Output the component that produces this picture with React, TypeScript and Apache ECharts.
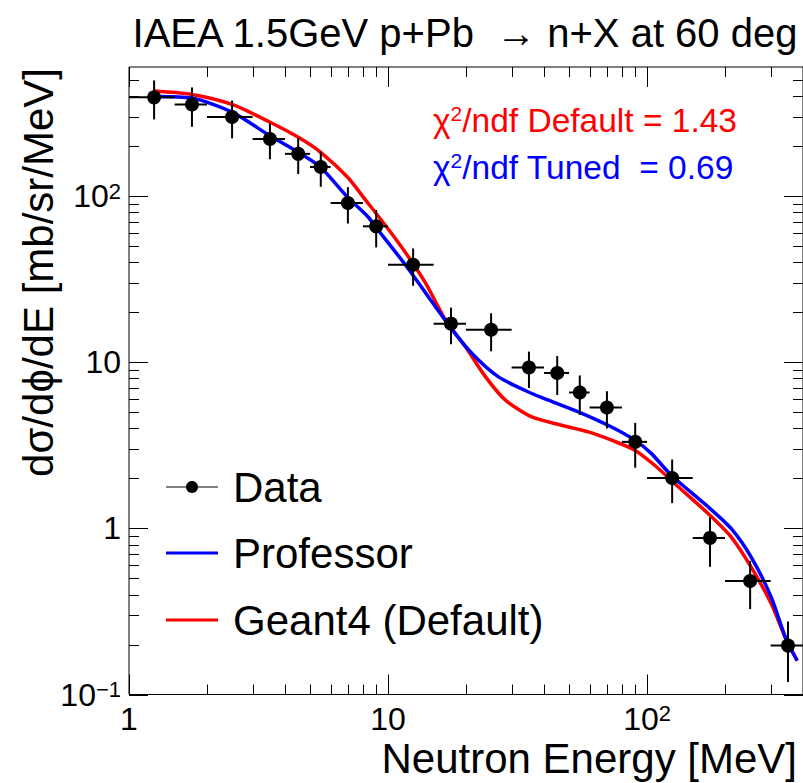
import React, { useEffect, useRef } from "react";
import * as echarts from "echarts";

const FONT = '"Liberation Sans", Arial, Helvetica, sans-serif';

// ---- data ----
const binEdges = [1, 1.5, 2, 3, 4, 5, 6, 8, 10, 15, 20, 30, 40, 50, 60, 80, 100, 150, 200, 300, 400];
const dataE = [1.25, 1.75, 2.5, 3.5, 4.5, 5.5, 7, 9, 12.5, 17.5, 25, 35, 45, 55, 70, 90, 125, 175, 250, 350];
const dataV = [394, 357, 300, 221, 180, 150, 91, 65.9, 38.7, 17.1, 15.7, 9.3, 8.63, 6.58, 5.35, 3.32, 2.01, 0.877, 0.482, 0.197];
const dataErr = [104, 95, 77, 54, 44, 36, 22.5, 16.7, 9.8, 4.25, 4.05, 2.3, 2.27, 1.76, 1.35, 1.0, 0.59, 0.29, 0.155, 0.078];

const professorE = [1.25, 1.75, 2.5, 3.49, 4.49, 5.48, 6.97, 8.38, 8.97, 11.7, 17.4, 21.1, 26.7, 35.9, 41.6, 54.3, 72.9, 89.7, 104, 124, 172, 211, 252, 301, 345, 380];
const professorV = [399, 390, 321, 232, 184.5, 150, 98.9, 75, 65.3, 38.4, 16.3, 11.3, 8.17, 6.49, 5.92, 5.03, 4.08, 3.4, 2.82, 2.09, 1.35, 1.0, 0.674, 0.388, 0.213, 0.16];

const geantE = [1.25, 1.75, 2.5, 3.49, 4.49, 5.48, 6.97, 8.21, 10.1, 12.0, 14.0, 16.7, 19.9, 23.8, 28.4, 35.9, 46.8, 59.3, 72.9, 89.7, 107, 132, 172, 211, 252, 301, 345, 380];
const geantV = [430, 410, 357, 280, 227, 184.5, 130.5, 94.4, 62.4, 43.1, 29.8, 17.9, 12.4, 8.17, 5.92, 4.69, 4.18, 3.81, 3.4, 2.96, 2.4, 1.78, 1.23, 0.89, 0.587, 0.354, 0.213, 0.16];

const xMajorTicks = [1, 10, 100];
const xMinorTicks = [2, 3, 4, 5, 6, 7, 8, 9, 20, 30, 40, 50, 60, 70, 80, 90, 200, 300];
const yMajorTicks = [0.1, 1, 10, 100];
const yMinorTicks = [0.2, 0.3, 0.4, 0.5, 0.6, 0.7, 0.8, 0.9, 2, 3, 4, 5, 6, 7, 8, 9, 20, 30, 40, 50, 60, 70, 80, 90, 200, 300, 400, 500];
const xTickBase = ["1", "10", "10"];
const xTickExp = ["", "", "2"];
const yTickBase = ["10", "1", "10", "10"];
const yTickExp = ["\u22121", "", "", "2"];

const titleText = "IAEA 1.5GeV p+Pb  \u2192 n+X at 60 deg";
const xAxisTitle = "Neutron Energy [MeV]";
const yAxisTitle = "d\u03c3/d\u03d5/dE [mb/sr/MeV]";
const legendLabels = ["Data", "Professor", "Geant4 (Default)"];
const chi2Labels = ["/ndf Default = 1.43", "/ndf Tuned  = 0.69"];

const RED = "#ff0000";
const BLUE = "#0000ff";

function makeFormatter(ticks: number[], base: string[], exp: string[]) {
  return (v: number) => {
    const lv = Math.log10(v);
    for (let i = 0; i < ticks.length; i++) {
      if (Math.abs(lv - Math.log10(ticks[i])) < 1e-6) {
        return exp[i] ? `{b|${base[i]}}{s|${exp[i]}}` : `{b|${base[i]}}`;
      }
    }
    return "";
  };
}

const labelRich = {
  b: { fontSize: 32, fontFamily: FONT, color: "#000" },
  s: { fontSize: 22, fontFamily: FONT, color: "#000", verticalAlign: "top" as const, padding: [0, 0, 10, 0] },
};

export default function App() {
  const ref = useRef<HTMLDivElement>(null);
  useEffect(() => {
    if (!ref.current) return;
    const chart = echarts.init(ref.current, null, { renderer: "svg" });

    const tickItems: number[][] = [
      ...xMajorTicks.map((v) => [v, 1, 0]),
      ...xMinorTicks.map((v) => [v, 1, 1]),
      ...yMajorTicks.map((v) => [1, v, 2]),
      ...yMinorTicks.map((v) => [1, v, 3]),
    ];

    const errItems = dataE.map((e, i) => [e, dataV[i], binEdges[i], binEdges[i + 1], dataV[i] - dataErr[i], dataV[i] + dataErr[i]]);

    const legendY = [487, 553, 620];

    const chiRich = (col: string) => ({
      c: { fontSize: 33.5, fontFamily: FONT, fill: col, color: col },
      s: { fontSize: 21, fontFamily: FONT, fill: col, color: col, verticalAlign: "top", padding: [0, 0, 8, 0] },
    });

    const option: any = {
      animation: false,
      backgroundColor: "#fff",
      grid: { left: 129, top: 67, width: 677, height: 627.5, show: true, borderColor: "#000", borderWidth: 1, backgroundColor: "transparent" },
      xAxis: {
        type: "log",
        logBase: 10,
        min: 1,
        max: 400,
        axisLine: { show: false },
        axisTick: { show: false },
        splitLine: { show: false },
        minorTick: { show: false },
        axisLabel: { formatter: makeFormatter(xMajorTicks, xTickBase, xTickExp), rich: labelRich, margin: 8, fontSize: 32, fontFamily: FONT, color: "#000", showMaxLabel: false },
      },
      yAxis: {
        type: "log",
        logBase: 10,
        min: 0.1,
        max: 600,
        axisLine: { show: false },
        axisTick: { show: false },
        splitLine: { show: false },
        minorTick: { show: false },
        axisLabel: { formatter: makeFormatter(yMajorTicks, yTickBase, yTickExp), rich: labelRich, margin: 8, fontSize: 32, fontFamily: FONT, color: "#000", showMaxLabel: false },
      },
      series: [
        {
          type: "custom",
          silent: true,
          clip: false,
          encode: { x: 0, y: 1 },
          data: tickItems,
          renderItem: (params: any, api: any) => {
            const cs = params.coordSys;
            const kind = api.value(2);
            const st = { stroke: "#000", lineWidth: 1 };
            if (kind < 2) {
              const px = Math.round(api.coord([api.value(0), 1])[0]) + 0.5;
              const len = kind === 0 ? 20 : 10;
              const yb = cs.y + cs.height;
              const yt = cs.y;
              return {
                type: "group",
                children: [
                  { type: "line", shape: { x1: px, y1: yb, x2: px, y2: yb - len }, style: st },
                  { type: "line", shape: { x1: px, y1: yt, x2: px, y2: yt + len }, style: st },
                ],
              };
            }
            const py = Math.round(api.coord([1, api.value(1)])[1]) + 0.5;
            const len = kind === 2 ? 19 : 10;
            const xl = cs.x;
            const xr = cs.x + cs.width;
            return {
              type: "group",
              children: [
                { type: "line", shape: { x1: xl, y1: py, x2: xl + len, y2: py }, style: st },
                { type: "line", shape: { x1: xr, y1: py, x2: xr - len, y2: py }, style: st },
              ],
            };
          },
          z: 1,
        },
        {
          type: "line",
          name: legendLabels[2],
          data: geantE.map((e, i) => [e, geantV[i]]),
          showSymbol: false,
          smooth: 0.25,
          lineStyle: { color: RED, width: 3.5 },
          itemStyle: { color: RED },
          z: 2,
        },
        {
          type: "line",
          name: legendLabels[1],
          data: professorE.map((e, i) => [e, professorV[i]]),
          showSymbol: false,
          smooth: 0.25,
          lineStyle: { color: BLUE, width: 3.5 },
          itemStyle: { color: BLUE },
          z: 3,
        },
        {
          type: "custom",
          silent: true,
          encode: { x: 0, y: 1 },
          data: errItems,
          renderItem: (params: any, api: any) => {
            const x = api.value(0);
            const y = api.value(1);
            const c = api.coord([x, y]);
            const pl = api.coord([api.value(2), y]);
            const ph = api.coord([api.value(3), y]);
            const pb = api.coord([x, api.value(4)]);
            const pt = api.coord([x, api.value(5)]);
            const st = { stroke: "#000", lineWidth: 2 };
            return {
              type: "group",
              children: [
                { type: "line", shape: { x1: pl[0], y1: c[1], x2: ph[0], y2: c[1] }, style: st },
                { type: "line", shape: { x1: c[0], y1: pt[1], x2: c[0], y2: pb[1] }, style: st },
              ],
            };
          },
          z: 4,
        },
        {
          type: "scatter",
          name: legendLabels[0],
          data: dataE.map((e, i) => [e, dataV[i]]),
          symbol: "circle",
          symbolSize: 14,
          itemStyle: { color: "#000", opacity: 1 },
          z: 5,
        },
      ],
      graphic: [
        {
          type: "text",
          x: 465,
          y: 33,
          style: { text: titleText, font: `40px ${FONT}`, fill: "#000", align: "center", verticalAlign: "middle", textAlign: "center", textVerticalAlign: "middle" },
        },
        {
          type: "text",
          x: 797,
          y: 758,
          style: { text: xAxisTitle, font: `42px ${FONT}`, fill: "#000", align: "right", verticalAlign: "middle", textAlign: "right", textVerticalAlign: "middle" },
        },
        {
          type: "text",
          x: 38,
          y: 68,
          rotation: Math.PI / 2,
          style: { text: yAxisTitle, font: `42px ${FONT}`, fill: "#000", align: "right", verticalAlign: "middle", textAlign: "right", textVerticalAlign: "middle" },
        },
        {
          type: "text",
          x: 433,
          y: 120,
          style: {
            text: `{c|\u03c7}{s|2}{c|${chi2Labels[0]}}`,
            rich: chiRich(RED),
            align: "left",
            verticalAlign: "middle",
            textAlign: "left",
            textVerticalAlign: "middle",
          },
        },
        {
          type: "text",
          x: 433,
          y: 167,
          style: {
            text: `{c|\u03c7}{s|2}{c|${chi2Labels[1]}}`,
            rich: chiRich(BLUE),
            align: "left",
            verticalAlign: "middle",
            textAlign: "left",
            textVerticalAlign: "middle",
          },
        },
        { type: "line", shape: { x1: 166, y1: legendY[0], x2: 218, y2: legendY[0] }, style: { stroke: "#000", lineWidth: 1.2 } },
        { type: "circle", shape: { cx: 192, cy: legendY[0], r: 6 }, style: { fill: "#000" } },
        { type: "line", shape: { x1: 166, y1: legendY[1], x2: 218, y2: legendY[1] }, style: { stroke: BLUE, lineWidth: 3 } },
        { type: "line", shape: { x1: 166, y1: legendY[2], x2: 218, y2: legendY[2] }, style: { stroke: RED, lineWidth: 3 } },
        ...legendLabels.map((t, i) => ({
          type: "text",
          x: 233,
          y: legendY[i],
          style: { text: t, font: `42px ${FONT}`, fill: "#000", align: "left", verticalAlign: "middle", textAlign: "left", textVerticalAlign: "middle" },
        })),
      ],
    };
    chart.setOption(option);
    return () => chart.dispose();
  }, []);
  return <div ref={ref} style={{ position: "absolute", left: 0, top: 0, width: 803, height: 783 }} />;
}
